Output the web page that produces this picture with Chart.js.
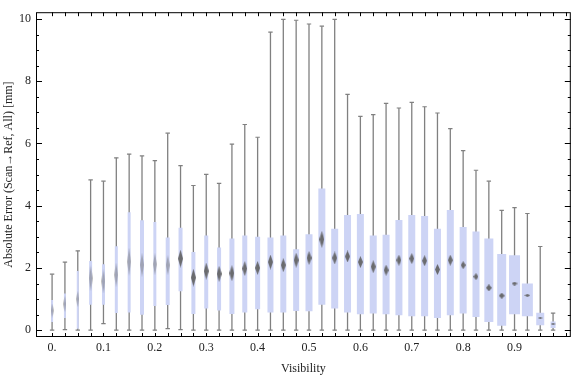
<!DOCTYPE html>
<html>
<head>
<meta charset="utf-8">
<script src="https://cdn.jsdelivr.net/npm/chart.js@4.4.1/dist/chart.umd.min.js"></script>
<style>
html, body { margin: 0; padding: 0; background: #fff; }
</style>
</head>
<body>
<canvas id="boxChart" width="576" height="377"></canvas>
<script>
// visibility bins (x) and box-whisker statistics per bin
const visibility = [0, 0.025, 0.05, 0.075, 0.1, 0.125, 0.15, 0.175, 0.2, 0.225,
    0.25, 0.275, 0.3, 0.325, 0.35, 0.375, 0.4, 0.425, 0.45, 0.475,
    0.5, 0.525, 0.55, 0.575, 0.6, 0.625, 0.65, 0.675, 0.7, 0.725,
    0.75, 0.775, 0.8, 0.825, 0.85, 0.875, 0.9, 0.925, 0.95, 0.975];
const whiskerLow = [0, 0.02, 0, 0, 0.21, 0, 0, 0, 0, 0.05,
    0.02, 0, 0, 0, 0, 0, 0, 0, 0, 0,
    0, 0, 0, 0, 0, 0, 0, 0, 0, 0,
    0, 0, 0, 0, 0, 0, 0, 0, 0, 0];
const boxLow = [0.26, 0.39, 0.05, 0.82, 0.82, 0.55, 0.57, 0.50, 0.78, 0.81,
    1.25, 0.52, 0.70, 0.63, 0.52, 0.57, 0.67, 0.57, 0.57, 0.62,
    0.61, 0.82, 0.70, 0.57, 0.51, 0.54, 0.51, 0.48, 0.45, 0.45,
    0.39, 0.48, 0.54, 0.42, 0.26, 0.14, 0.51, 0.45, 0.16, 0.07];
const median = [0.63, 0.84, 1.0, 1.67, 1.57, 1.78, 2.2, 2.1, 2.12, 2.09,
    2.30, 1.69, 1.90, 1.81, 1.83, 1.98, 2.0, 2.19, 2.09, 2.25,
    2.32, 2.92, 2.32, 2.37, 2.19, 2.04, 1.93, 2.25, 2.30, 2.23,
    1.95, 2.25, 2.09, 1.72, 1.36, 1.11, 1.50, 1.12, 0.40, 0.19];
const boxHigh = [0.97, 1.18, 1.90, 2.22, 2.12, 2.70, 3.79, 3.53, 3.48, 2.98,
    3.29, 2.51, 3.04, 2.66, 2.95, 3.04, 3.00, 2.98, 3.04, 2.60,
    3.08, 4.55, 3.26, 3.70, 3.73, 3.04, 3.07, 3.54, 3.70, 3.67,
    3.26, 3.86, 3.32, 3.17, 2.95, 2.45, 2.41, 1.50, 0.56, 0.28];
const whiskerHigh = [1.80, 2.19, 2.55, 4.83, 4.79, 5.54, 5.66, 5.60, 5.45, 6.33,
    5.29, 4.65, 5.01, 4.72, 5.98, 6.61, 6.20, 9.58, 9.99, 9.96,
    9.84, 9.77, 9.99, 7.58, 6.87, 6.93, 7.29, 7.14, 7.32, 7.18,
    6.98, 6.48, 5.77, 5.14, 4.79, 3.85, 3.94, 3.75, 2.69, 0.55];

// drawing styles (pixels)
const boxWidth = [2, 2, 2, 3, 3, 3, 3, 4, 3, 4, 4, 4, 4, 4, 5, 5, 5, 6, 6, 6,
    7, 7, 7, 7, 7, 7, 7, 7, 7, 7, 7, 7, 7, 7, 9, 9, 11, 11, 8, 5];
const diamondHeight = [14, 16, 16, 26, 24, 24, 28, 24, 22, 20, 18, 18, 17, 16, 16, 15, 14, 15, 14, 15,
    14, 17, 13, 12, 12, 13, 11, 11, 11, 11, 11, 11, 8, 7, 7, 6, 4, 3, 2, 2];

const gray = 'rgb(128,128,128)';
const boxFill = 'rgb(205,212,245)';

Chart.defaults.font.family = "'Liberation Serif', 'DejaVu Serif', serif";
Chart.defaults.font.size = 12;
Chart.defaults.color = '#222';

function diamond(w, h, color) {
    const c = document.createElement('canvas');
    c.width = w;
    c.height = h;
    const g = c.getContext('2d');
    g.fillStyle = color;
    g.beginPath();
    g.moveTo(w / 2, 0);
    g.lineTo(w, h / 2);
    g.lineTo(w / 2, h);
    g.lineTo(0, h / 2);
    g.closePath();
    g.fill();
    return c;
}
const diamonds = visibility.map((v, i) => {
    const w = i < 3 ? 3 : (i < 10 ? 4 : (i >= 34 && i < 38 ? 6 : 5));
    const col = i < 10 ? 'rgba(105,105,105,0.45)' : 'rgba(95,95,95,0.9)';
    return diamond(w, diamondHeight[i], col);
});

const whiskers = {
    type: 'bar',
    data: visibility.map((v, i) => ({x: v, y: [whiskerLow[i], whiskerHigh[i]]})),
    backgroundColor: gray,
    borderWidth: 0,
    inflateAmount: 0,
    grouped: false,
    barPercentage: 1,
    categoryPercentage: 1,
    maxBarThickness: 1.3,
    order: 5
};
const caps = {
    type: 'scatter',
    data: visibility.flatMap((v, i) => [{x: v, y: whiskerLow[i]}, {x: v, y: whiskerHigh[i]}]),
    pointStyle: 'line',
    pointRadius: 2.2,
    borderColor: gray,
    borderWidth: 1.2,
    order: 4
};
const boxSets = [...new Set(boxWidth)].map(w => ({
    type: 'bar',
    data: visibility.map((v, i) => boxWidth[i] === w ? {x: v, y: [boxLow[i], boxHigh[i]]} : null).filter(Boolean),
    backgroundColor: boxFill,
    borderWidth: 0,
    inflateAmount: 0,
    grouped: false,
    barPercentage: 1,
    categoryPercentage: 1,
    maxBarThickness: w,
    order: 3
}));
const medians = {
    type: 'scatter',
    data: visibility.map((v, i) => ({x: v, y: median[i]})),
    pointStyle: ctx => diamonds[ctx.dataIndex],
    pointRadius: 3,
    order: 1
};

// Mathematica-like frame with inward ticks on all four sides
const framePlugin = {
    id: 'frame',
    afterDatasetsDraw(chart) {
        const {ctx, chartArea: a, scales: {x, y}} = chart;
        ctx.save();
        ctx.strokeStyle = '#000';
        ctx.lineWidth = 1;
        ctx.strokeRect(a.left + 0.5, a.top + 0.5, a.right - a.left - 1, a.bottom - a.top - 1);
        ctx.beginPath();
        for (let k = 0; k <= 40; k++) {
            const px = Math.round(x.getPixelForValue(k * 0.025)) + 0.5;
            ctx.moveTo(px, a.bottom); ctx.lineTo(px, a.bottom - 4);
            ctx.moveTo(px, a.top); ctx.lineTo(px, a.top + 4);
        }
        for (let k = 0; k <= 20; k++) {
            const py = Math.round(y.getPixelForValue(k * 0.5)) + 0.5;
            const len = k % 4 === 0 ? 6 : 3;
            ctx.moveTo(a.left, py); ctx.lineTo(a.left + len, py);
            ctx.moveTo(a.right, py); ctx.lineTo(a.right - len, py);
        }
        ctx.stroke();
        ctx.restore();
    }
};

new Chart(document.getElementById('boxChart'), {
    type: 'bar',
    data: {datasets: [whiskers, caps, ...boxSets, medians]},
    options: {
        responsive: false,
        animation: false,
        layout: {padding: {top: 4, right: 1, left: 0, bottom: 0}},
        plugins: {legend: {display: false}, tooltip: {enabled: false}},
        scales: {
            x: {
                type: 'linear',
                offset: false,
                min: -0.0313,
                max: 1.0095,
                grid: {display: false, drawTicks: false, offset: false},
                border: {display: false},
                ticks: {
                    stepSize: 0.1,
                    includeBounds: false,
                    autoSkip: false,
                    maxRotation: 0,
                    padding: 4,
                    callback: v => v === 0 ? '0.' : (v > 0.95 ? '' : v.toFixed(1))
                },
                title: {display: true, text: 'Visibility', padding: {top: 0, bottom: 1}},
                afterFit: s => { s.height = 40; }
            },
            y: {
                type: 'linear',
                min: -0.219,
                max: 10.219,
                grid: {display: false, drawTicks: false},
                border: {display: false},
                ticks: {stepSize: 2, includeBounds: false, padding: 5, callback: v => v},
                title: {display: true, text: 'Absolute Error (Scan\u2192Ref, All) [mm]', padding: {top: 2, bottom: 0}},
                afterFit: s => { s.width = 36; }
            }
        }
    },
    plugins: [framePlugin]
});
</script>
</body>
</html>
